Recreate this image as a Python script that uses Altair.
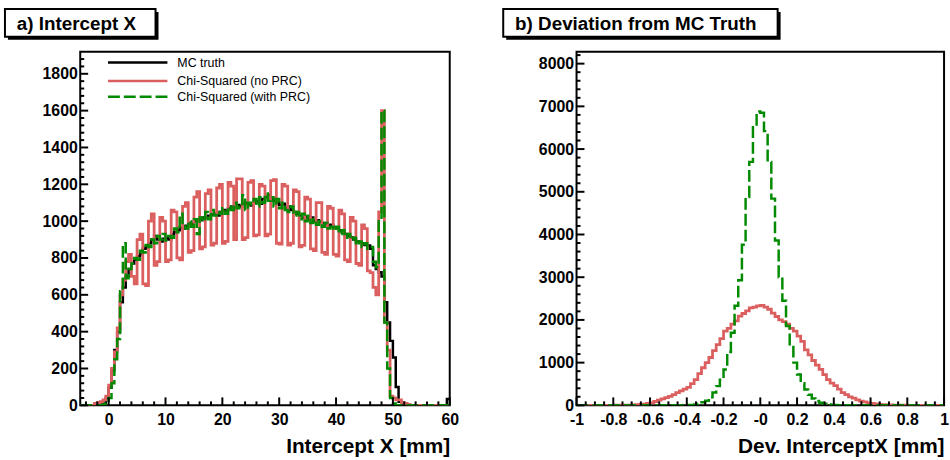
import altair as alt
import pandas as pd

# ---------------- data: panel a) Intercept X (bins of 0.5 mm, -5 .. 60) ----------
A_LO, A_BW = -5.0, 0.5
mc_truth = [
    0, 0, 0, 0, 0, 0, 0, 5, 10, 40,
    95, 190, 300, 400, 560, 640, 700, 740, 770, 790,
    810, 820, 850, 860, 880, 900, 920, 900, 890, 905,
    910, 900, 930, 940, 950, 965, 960, 975, 990, 985,
    1000, 1010, 1005, 1020, 1018, 1030, 1035, 1040, 1030, 1050,
    1060, 1055, 1070, 1080, 1075, 1088, 1080, 1095, 1100, 1090,
    1085, 1100, 1110, 1095, 1120, 1130, 1142, 1120, 1110, 1100,
    1088, 1095, 1070, 1080, 1060, 1050, 1040, 1030, 1018, 1025,
    1010, 1020, 1000, 1005, 995, 990, 985, 975, 980, 965,
    965, 950, 940, 930, 920, 911, 900, 890, 885, 880,
    870, 868, 850, 761, 740, 723, 700, 560, 450, 350,
    260, 100, 20, 0, 0, 0, 0, 0, 0, 0,
    0, 0, 0, 0, 0, 0, 0, 0, 0, 35,
]
chi2_no_prc = [
    0, 0, 0, 0, 0, 10, 15, 20, 30, 50,
    110, 200, 290, 420, 600, 680, 780, 820, 700, 660,
    900, 930, 660, 650, 1000, 1040, 760, 780, 1020, 1000,
    780, 790, 1060, 1050, 800, 790, 1080, 1100, 830, 840,
    1130, 1160, 850, 860, 1150, 1170, 870, 880, 1180, 1200,
    880, 890, 1210, 1190, 900, 1230, 1230, 900, 910, 1210,
    1220, 920, 925, 1200, 1190, 920, 930, 1220, 1225, 880,
    875, 1200, 1190, 870, 880, 1170, 1160, 860, 868, 1130,
    1120, 850, 840, 1100, 1100, 830, 820, 1080, 1070, 820,
    810, 1060, 1040, 790, 780, 1020, 1000, 770, 760, 980,
    960, 730, 720, 640, 600, 1050, 1600, 450, 300, 50,
    40, 30, 30, 15, 10, 5, 0, 0, 0, 0,
    0, 0, 0, 0, 0, 0, 0, 0, 0, 0,
]
chi2_with_prc = [
    0, 0, 0, 0, 0, 0, 0, 0, 5, 10,
    40, 120, 250, 360, 620, 880, 690, 740, 770, 800,
    790, 840, 830, 870, 860, 900, 880, 920, 900, 930,
    895, 920, 910, 960, 940, 1040, 980, 960, 1000, 970,
    1010, 930, 1020, 1000, 1050, 1010, 1060, 1030, 1050, 1040,
    1070, 1040, 1080, 1060, 1100, 1070, 1080, 1140, 1060, 1100,
    1090, 1120, 1080, 1130, 1100, 1150, 1110, 1130, 1080, 1120,
    1070, 1100, 1060, 1050, 1080, 1030, 1050, 1010, 1040, 1000,
    1030, 990, 1010, 980, 1000, 970, 990, 960, 970, 950,
    970, 930, 950, 910, 930, 900, 910, 870, 890, 860,
    880, 850, 860, 780, 750, 1000, 1600, 450, 200, 40,
    10, 0, 0, 0, 0, 0, 0, 0, 0, 0,
    0, 0, 0, 0, 0, 0, 0, 0, 0, 0,
]

# ---------------- data: panel b) Deviation (bins of 0.02 mm, -1 .. 1) -------------
B_LO, B_BW = -1.0, 0.02
dev_no_prc = [
    0, 0, 0, 0, 0, 0, 0, 0, 0, 0,
    2, 3, 4, 5, 7, 10, 15, 20, 30, 45,
    60, 90, 120, 150, 180, 210, 250, 300, 340, 380,
    420, 510, 600, 740, 880, 1000, 1120, 1280, 1420, 1560,
    1740, 1800, 1900, 1980, 2090, 2150, 2210, 2280, 2300, 2330,
    2340, 2300, 2250, 2160, 2080, 2000, 1960, 1900, 1800, 1740,
    1620, 1500, 1300, 1180, 1050, 940, 840, 720, 600, 520,
    460, 380, 300, 250, 200, 170, 130, 100, 80, 60,
    45, 35, 25, 15, 10, 8, 6, 4, 3, 2,
    1, 1, 0, 0, 0, 0, 0, 0, 0, 0,
]
dev_with_prc = [
    0, 0, 0, 0, 0, 0, 0, 0, 0, 0,
    0, 0, 0, 0, 0, 0, 0, 0, 0, 0,
    0, 0, 0, 1, 1, 2, 3, 4, 5, 6,
    8, 10, 20, 35, 70, 110, 190, 300, 450, 600,
    840, 1250, 1700, 2330, 2930, 3760, 4880, 5700, 6510, 6880,
    6850, 6420, 5700, 4840, 3860, 3000, 2450, 1860, 1400, 1000,
    720, 520, 370, 250, 160, 100, 60, 40, 25, 15,
    8, 5, 3, 2, 1, 0, 0, 0, 0, 0,
    0, 0, 0, 0, 0, 0, 0, 0, 0, 0,
    0, 0, 0, 0, 0, 0, 0, 0, 0, 0,
]

legend_labels = ["MC truth", "Chi-Squared (no PRC)", "Chi-Squared (with PRC)"]

# tick positions / labels
a_xmajor = [0, 10, 20, 30, 40, 50, 60]
a_xminor = [v for v in range(-4, 60, 2) if v % 10 != 0]
a_ymajor = list(range(0, 1801, 200))
a_yminor = [v for v in range(40, 1920, 40) if v % 200 != 0]
b_xmajor = [-1, -0.8, -0.6, -0.4, -0.2, 0, 0.2, 0.4, 0.6, 0.8, 1]
b_xminor = [round(-1 + 0.05 * i, 2) for i in range(41) if i % 4 != 0]
b_ymajor = list(range(0, 8001, 1000))
b_yminor = [v for v in range(200, 8280, 200) if v % 1000 != 0]

# ---------------- styling ----------------
FONT = "Liberation Sans"
BLACK, RED, GREEN = "#000000", "#dc5f5f", "#008a00"
DASH = [12, 4]


def step_df(counts, lo, bw):
    edges = [lo + bw * i for i in range(len(counts) + 1)]
    vals = list(counts) + [counts[-1]]
    return pd.DataFrame({"x": edges, "y": vals})


def make_panel(series, xdom, ydom, W, H, xaxis, yaxis, xt, yt, title, title_box, legend):
    xs = alt.Scale(domain=xdom, nice=False, zero=False)
    ys = alt.Scale(domain=ydom, nice=False, zero=False)
    layers = []
    # title box (shadow, box, text)
    bx0, bx1, by0, by1 = title_box
    layers.append(alt.Chart(pd.DataFrame({"a": [0]})).mark_rect(color="black").encode(
        x=alt.value(bx0 + 3), x2=alt.value(bx1 + 3), y=alt.value(by0 + 3), y2=alt.value(by1 + 3)))
    layers.append(alt.Chart(pd.DataFrame({"a": [0]})).mark_rect(
        fill="white", stroke="black", strokeWidth=2).encode(
        x=alt.value(bx0), x2=alt.value(bx1), y=alt.value(by0), y2=alt.value(by1)))
    layers.append(alt.Chart(pd.DataFrame({"a": [0]})).mark_text(
        align="left", baseline="middle", font=FONT, fontSize=19, fontWeight="bold", color="black").encode(
        x=alt.value(bx0 + 12), y=alt.value((by0 + by1) / 2 + 1), text=alt.value(title)))
    # histograms
    for counts, lo, bw, color, dash, sw in series:
        df = step_df(counts, lo, bw)
        kw = dict(interpolate="step-after", color=color, strokeWidth=sw, clip=True)
        if dash:
            kw["strokeDash"] = dash
        layers.append(alt.Chart(df).mark_line(**kw).encode(
            x=alt.X("x:Q", scale=xs, axis=xaxis),
            y=alt.Y("y:Q", scale=ys, axis=yaxis)))
    # inward ticks
    xmaj, xmin, ymaj, ymin = xt + yt
    for vals, ln in ((xmaj, 8), (xmin, 4)):
        layers.append(alt.Chart(pd.DataFrame({"v": vals})).mark_rule(color="black", strokeWidth=2).encode(
            x=alt.X("v:Q", scale=xs, axis=xaxis), y=alt.value(H), y2=alt.value(H - ln)))
    for vals, ln in ((ymaj, 8), (ymin, 4)):
        layers.append(alt.Chart(pd.DataFrame({"v": vals})).mark_rule(color="black", strokeWidth=2).encode(
            y=alt.Y("v:Q", scale=ys, axis=yaxis), x=alt.value(0), x2=alt.value(ln)))
    # legend
    if legend:
        for i, (lab, color, dash) in enumerate(legend):
            yy = [11, 29.5, 45.5][i]
            kw = dict(color=color, strokeWidth=2.5)
            if dash:
                kw["strokeDash"] = dash
            layers.append(alt.Chart(pd.DataFrame({"a": [0]})).mark_rule(**kw).encode(
                x=alt.value(28), x2=alt.value(88), y=alt.value(yy)))
            layers.append(alt.Chart(pd.DataFrame({"a": [0]})).mark_text(
                align="left", baseline="middle", font=FONT, fontSize=12.5, color="black").encode(
                x=alt.value(98), y=alt.value(yy), text=alt.value(lab)))
    return alt.layer(*layers).properties(width=W, height=H)


def x_axis(values, title, label_expr):
    return alt.Axis(values=values, ticks=False, domain=False, grid=False,
                    labelFont=FONT, labelFontSize=16, labelFontWeight="bold", labelColor="black",
                    labelPadding=6, labelFlush=False, labelOverlap=False, labelExpr=label_expr,
                    title=title, titleAnchor="end", titleFont=FONT, titleFontSize=21,
                    titleFontWeight="bold", titleColor="black", titlePadding=9)


def y_axis(values):
    return alt.Axis(values=values, ticks=False, domain=False, grid=False,
                    labelFont=FONT, labelFontSize=16, labelFontWeight="bold", labelColor="black",
                    labelPadding=3, labelOverlap=False, labelExpr="toString(datum.value)", title=None)


ax_a_x = x_axis(a_xmajor, "Intercept X [mm]", "toString(datum.value)")
ax_a_y = y_axis(a_ymajor)
ax_b_x = x_axis(b_xmajor, "Dev. InterceptX [mm]", "datum.value == 0 ? '-0' : toString(datum.value)")
ax_b_y = y_axis(b_ymajor)

panel_a = make_panel(
    [(mc_truth, A_LO, A_BW, BLACK, None, 2.5),
     (chi2_no_prc, A_LO, A_BW, RED, None, 2.8),
     (chi2_with_prc, A_LO, A_BW, GREEN, DASH, 2.5)],
    [-5, 60], [0, 1920], 373, 357, ax_a_x, ax_a_y,
    (a_xmajor, a_xminor), (a_ymajor, a_yminor),
    "a) Intercept X", (-76, 76, -43, -15),
    list(zip(legend_labels, [BLACK, RED, GREEN], [None, None, DASH])))

panel_b = make_panel(
    [(dev_no_prc, B_LO, B_BW, RED, None, 2.8),
     (dev_with_prc, B_LO, B_BW, GREEN, DASH, 2.5)],
    [-1, 1], [0, 8280], 371, 357, ax_b_x, ax_b_y,
    (b_xmajor, b_xminor), (b_ymajor, b_yminor),
    "b) Deviation from MC Truth", (-74, 203, -43, -15), None)

chart = alt.hconcat(panel_a, panel_b, spacing=42).properties(
    padding={"left": 3, "top": 5, "right": 0, "bottom": 0},
    background="white",
).configure_view(stroke="black", strokeWidth=2)

chart.save("out.html", embed_options={"renderer": "svg", "actions": False})
